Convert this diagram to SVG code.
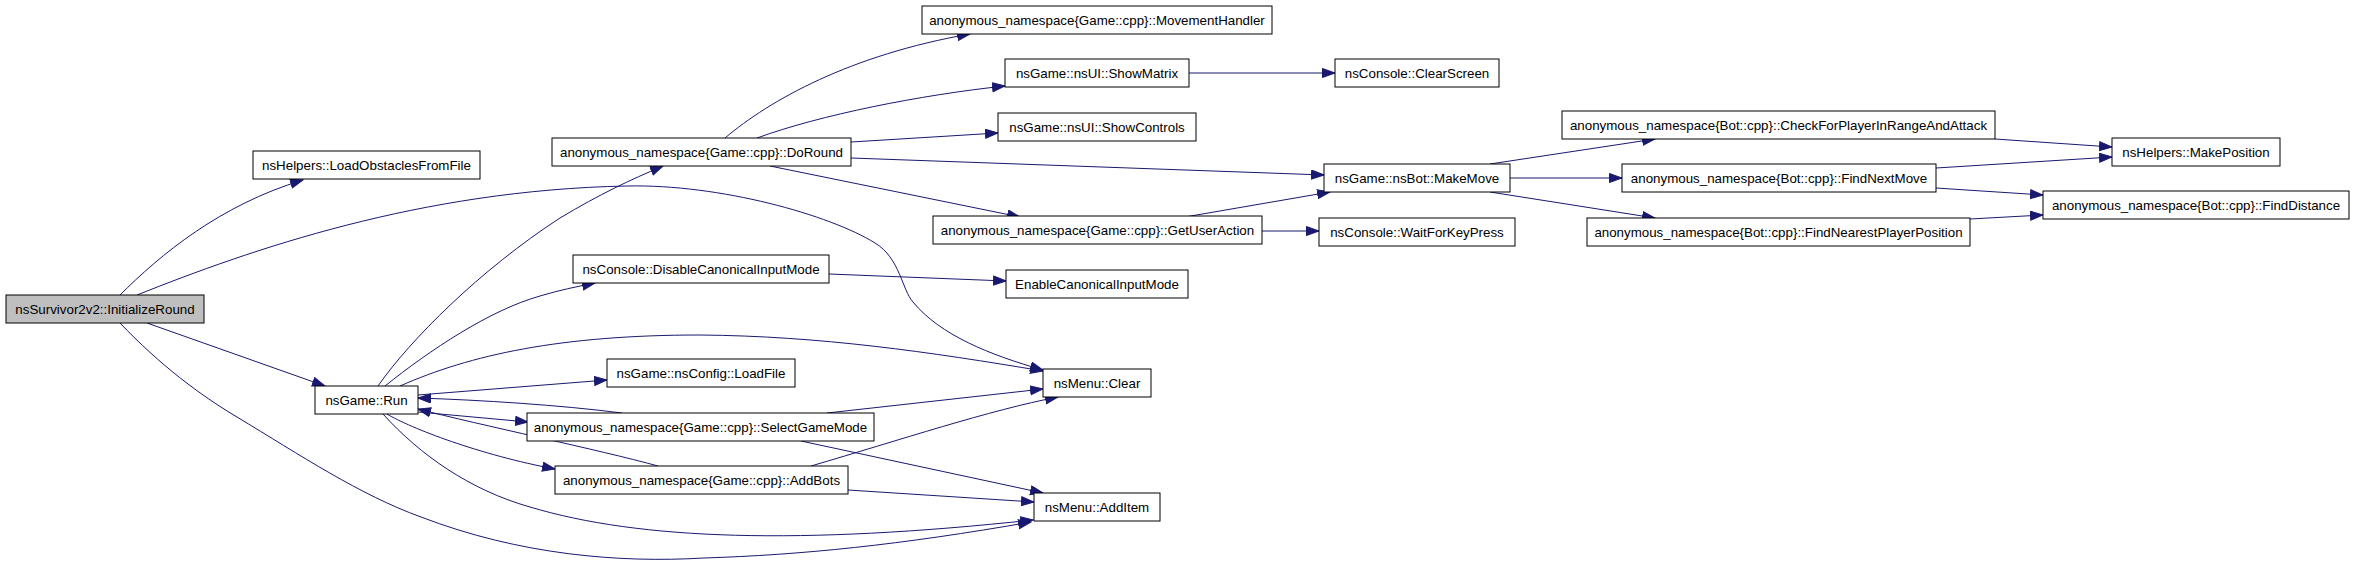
<svg xmlns="http://www.w3.org/2000/svg" width="2355" height="565" viewBox="0 0 2355 565">
<style>
.n rect{fill:#fff;stroke:#000;stroke-width:1}
.n.root rect{fill:#bfbfbf}
.n text{font-family:"Liberation Sans",Arial,Helvetica,sans-serif;font-size:13.33px;fill:#000;text-anchor:middle}
.e path{fill:none;stroke:#191970;stroke-width:1;marker-end:url(#ah)}
</style>
<defs>
<marker id="ah" markerUnits="userSpaceOnUse" markerWidth="14" markerHeight="11" refX="13" refY="5" orient="auto">
<path d="M0.5,0.5 L13,5 L0.5,9.5 z" fill="#191970" stroke="#191970" stroke-width="1"/>
</marker>
</defs>
<rect width="2355" height="565" fill="#fff"/>
<g id="edges" class="e">
<path d="M120,295 C160,255 220,205 303,180"/>
<path d="M137,295 C250,250 420,190 627,186 C720,184 830,215 875,243 C900,258 902,290 913,302 C940,335 990,355 1043,370"/>
<path d="M147,323 L325,386"/>
<path d="M120,323 C160,365 200,395 237,417 C300,455 360,495 421,517 C520,555 620,563 704,558 C800,555 900,545 1031,522"/>
<path d="M378,386 C410,340 480,270 560,218 C600,194 630,180 663,166"/>
<path d="M385,386 C430,350 490,310 540,296 C560,290 575,287 595,283"/>
<path d="M400,386 C470,355 560,335 700,335 C820,336 930,352 1043,371"/>
<path d="M418,395 L607,380"/>
<path d="M622,413 C560,405 480,400 418,398"/>
<path d="M418,412 L528,422"/>
<path d="M658,466 C600,450 480,425 418,409"/>
<path d="M387,414 C410,428 480,455 555,469"/>
<path d="M383,414 C420,455 470,490 530,507 C640,540 800,545 1033,520"/>
<path d="M827,413 L1043,389"/>
<path d="M801,441 L1043,493"/>
<path d="M811,466 C900,440 990,410 1058,397"/>
<path d="M848,490 L1034,502"/>
<path d="M725,138 C770,100 850,55 970,34"/>
<path d="M757,138 C820,115 920,95 1005,86"/>
<path d="M851,142 L998,133"/>
<path d="M851,158 L1324,175"/>
<path d="M770,166 L1020,217"/>
<path d="M1189,73 L1335,73"/>
<path d="M1185,217 L1330,192"/>
<path d="M1262,231 L1319,231"/>
<path d="M829,274 L1006,281"/>
<path d="M1490,164 L1655,139"/>
<path d="M1510,178 L1622,178"/>
<path d="M1490,192 L1655,218"/>
<path d="M1995,139 L2112,147"/>
<path d="M1936,168 L2112,157"/>
<path d="M1936,188 L2043,195"/>
<path d="M1970,219 L2043,215"/>
</g>
<g id="InitializeRound" class="n root"><rect x="6" y="295" width="198" height="28"/><text x="105" y="313.5">nsSurvivor2v2::InitializeRound</text></g>
<g id="LoadObstaclesFromFile" class="n"><rect x="253" y="151" width="227" height="28"/><text x="366.5" y="169.5">nsHelpers::LoadObstaclesFromFile</text></g>
<g id="Run" class="n"><rect x="315" y="386" width="103" height="28"/><text x="366.5" y="404.5">nsGame::Run</text></g>
<g id="DoRound" class="n"><rect x="552" y="138" width="299" height="28"/><text x="701.5" y="156.5">anonymous_namespace{Game::cpp}::DoRound</text></g>
<g id="MovementHandler" class="n"><rect x="922" y="6" width="350" height="28"/><text x="1097" y="24.5">anonymous_namespace{Game::cpp}::MovementHandler</text></g>
<g id="ShowMatrix" class="n"><rect x="1005" y="59" width="184" height="28"/><text x="1097" y="77.5">nsGame::nsUI::ShowMatrix</text></g>
<g id="ShowControls" class="n"><rect x="998" y="113" width="198" height="28"/><text x="1097" y="131.5">nsGame::nsUI::ShowControls</text></g>
<g id="ClearScreen" class="n"><rect x="1335" y="59" width="164" height="28"/><text x="1417" y="77.5">nsConsole::ClearScreen</text></g>
<g id="GetUserAction" class="n"><rect x="933" y="216" width="329" height="28"/><text x="1097.5" y="234.5">anonymous_namespace{Game::cpp}::GetUserAction</text></g>
<g id="DisableCanonicalInputMode" class="n"><rect x="573" y="255" width="256" height="28"/><text x="701" y="273.5">nsConsole::DisableCanonicalInputMode</text></g>
<g id="EnableCanonicalInputMode" class="n"><rect x="1006" y="270" width="182" height="28"/><text x="1097" y="288.5">EnableCanonicalInputMode</text></g>
<g id="LoadFile" class="n"><rect x="607" y="359" width="188" height="28"/><text x="701" y="377.5">nsGame::nsConfig::LoadFile</text></g>
<g id="Clear" class="n"><rect x="1043" y="369" width="108" height="28"/><text x="1097" y="387.5">nsMenu::Clear</text></g>
<g id="SelectGameMode" class="n"><rect x="527" y="413" width="347" height="28"/><text x="700.5" y="431.5">anonymous_namespace{Game::cpp}::SelectGameMode</text></g>
<g id="AddBots" class="n"><rect x="555" y="466" width="293" height="28"/><text x="701.5" y="484.5">anonymous_namespace{Game::cpp}::AddBots</text></g>
<g id="AddItem" class="n"><rect x="1034" y="493" width="126" height="28"/><text x="1097" y="511.5">nsMenu::AddItem</text></g>
<g id="MakeMove" class="n"><rect x="1324" y="164" width="186" height="28"/><text x="1417" y="182.5">nsGame::nsBot::MakeMove</text></g>
<g id="WaitForKeyPress" class="n"><rect x="1319" y="218" width="196" height="28"/><text x="1417" y="236.5">nsConsole::WaitForKeyPress</text></g>
<g id="CheckForPlayerInRangeAndAttack" class="n"><rect x="1562" y="111" width="433" height="28"/><text x="1778.5" y="129.5">anonymous_namespace{Bot::cpp}::CheckForPlayerInRangeAndAttack</text></g>
<g id="FindNextMove" class="n"><rect x="1622" y="164" width="314" height="28"/><text x="1779" y="182.5">anonymous_namespace{Bot::cpp}::FindNextMove</text></g>
<g id="FindNearestPlayerPosition" class="n"><rect x="1587" y="218" width="383" height="28"/><text x="1778.5" y="236.5">anonymous_namespace{Bot::cpp}::FindNearestPlayerPosition</text></g>
<g id="MakePosition" class="n"><rect x="2112" y="138" width="168" height="28"/><text x="2196" y="156.5">nsHelpers::MakePosition</text></g>
<g id="FindDistance" class="n"><rect x="2043" y="191" width="306" height="28"/><text x="2196" y="209.5">anonymous_namespace{Bot::cpp}::FindDistance</text></g>
</svg>
